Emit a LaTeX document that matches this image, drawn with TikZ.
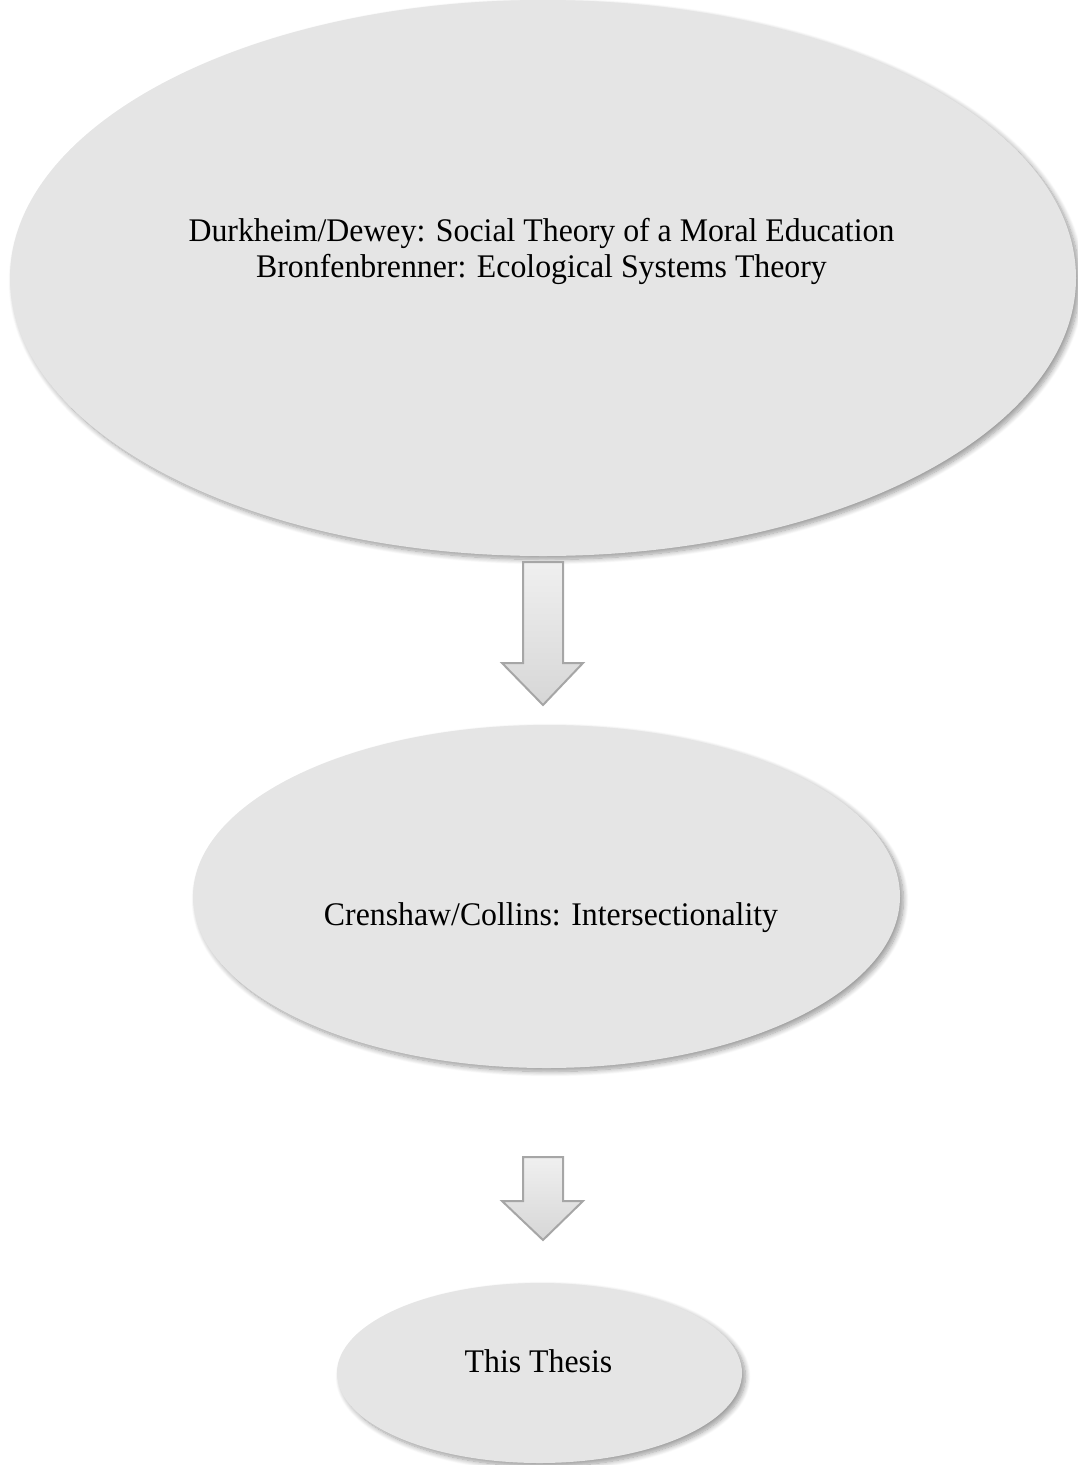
\documentclass[tikz,border=0pt]{standalone}
\usepackage{fontspec}
\setmainfont{Liberation Serif}[FakeStretch=0.964]
\usetikzlibrary{shapes.geometric,shadows.blur,calc}
\begin{document}
\begin{tikzpicture}[x=1pt,y=-1pt,
  oval/.style={ellipse, fill=black!10, inner sep=0pt,
    blur shadow={shadow xshift=3.5pt, shadow yshift=-3.5pt, shadow blur radius=5pt, shadow blur steps=10, shadow opacity=40}},
  lbl/.style={font=\fontsize{33}{36}\selectfont, anchor=base, inner sep=0pt},
  blockarrow/.style={draw=black!35, line width=2pt, top color=black!6, bottom color=black!16, line join=miter}]
\useasboundingbox (0,0) rectangle (1078,1465);
% ellipses
\node[oval, minimum width=1066pt, minimum height=556pt] (e1) at (543,278) {};
\node[oval, minimum width=707pt, minimum height=343pt] (e2) at (546.5,896.5) {};
\node[oval, minimum width=405pt, minimum height=180pt] (e3) at (539.5,1373) {};
% texts
\node[lbl] (t1a) at (541.5,241) {Durkheim/Dewey: Social Theory of a Moral Education};
\node[lbl] (t1b) at (541.5,277) {Bronfenbrenner: Ecological Systems Theory};
\node[lbl] (t2) at (551,925) {Crenshaw/Collins: Intersectionality};
\node[lbl] (t3) at (538.5,1372) {This Thesis};
% block arrows
\coordinate (a1) at (543,562);
\coordinate (a2) at (543,1157);
\draw[blockarrow] ($(a1)+(-20,0)$) -- ($(a1)+(20,0)$) -- ($(a1)+(20,101)$) -- ($(a1)+(40,101)$)
  -- ($(a1)+(0,143)$) -- ($(a1)+(-41,101)$) -- ($(a1)+(-20,101)$) -- cycle;
\draw[blockarrow] ($(a2)+(-20,0)$) -- ($(a2)+(20,0)$) -- ($(a2)+(20,44)$) -- ($(a2)+(40,44)$)
  -- ($(a2)+(0,83)$) -- ($(a2)+(-41,44)$) -- ($(a2)+(-20,44)$) -- cycle;
\end{tikzpicture}
\end{document}
